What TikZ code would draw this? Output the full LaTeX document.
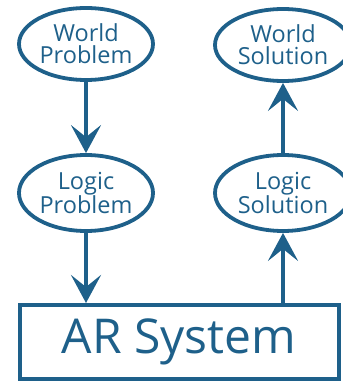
\documentclass[tikz,border=0pt]{standalone}
\usepackage{fontspec}
\setmainfont{Open Sans}
\usetikzlibrary{shapes.geometric,arrows.meta}
\definecolor{arblue}{RGB}{30,96,138}
\begin{document}
\begin{tikzpicture}[x=1pt,y=-1pt,
  oval/.style={ellipse,draw=arblue,line width=3.8pt,text=arblue,inner sep=0pt,
    minimum width=134pt,minimum height=72pt,align=center,
    font=\fontsize{23.5}{22}\selectfont},
  sysbox/.style={rectangle,draw=arblue,line width=4pt,text=arblue,inner sep=0pt,
    minimum width=319pt,minimum height=74pt,font=\fontsize{48}{50}\selectfont},
  flow/.style={draw=arblue,line width=4pt,
    -{Stealth[length=28pt,width=30pt,inset=12pt]}}]
\useasboundingbox (0,0) rectangle (342,382);
\node[oval] (wp) at (86,44) {World\\Problem};
\node[oval,minimum height=76pt] (lp) at (86,193) {Logic\\Problem};
\node[oval,minimum width=136pt] (ws) at (283,45) {World\\Solution};
\node[oval,minimum width=136pt,minimum height=76pt] (ls) at (283,193) {Logic\\Solution};
\node[sysbox] (ar) at (179,342) {AR System};
\draw[flow] (wp.south) -- (lp.north);
\draw[flow] (lp.south) -- (lp.south |- ar.north);
\draw[flow] (ls.south |- ar.north) -- (ls.south);
\draw[flow] (ls.north) -- (ws.south);
\end{tikzpicture}
\end{document}
